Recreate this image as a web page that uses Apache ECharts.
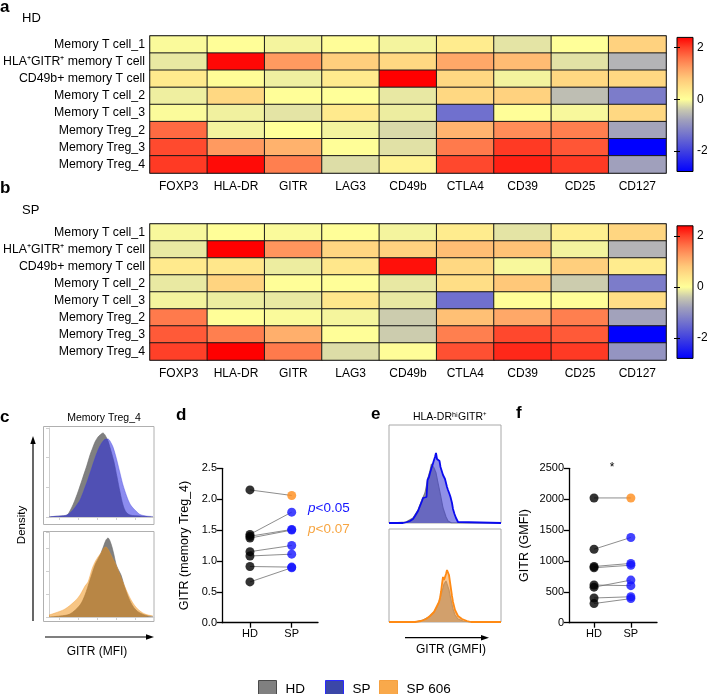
<!DOCTYPE html>
<html><head><meta charset="utf-8">
<script src="https://cdn.jsdelivr.net/npm/echarts@6/dist/echarts.min.js"></script>
<style>html,body{margin:0;padding:0;background:#fff}#c{width:707px;height:694px}</style>
</head><body><div id="c"></div>
<script>
// ---------- DATA ----------
const rowNames = ['Memory T cell_1','HLA\u207AGITR\u207A memory T cell','CD49b+ memory T cell','Memory T cell_2','Memory T cell_3','Memory Treg_2','Memory Treg_3','Memory Treg_4'];
const markers = ['FOXP3','HLA-DR','GITR','LAG3','CD49b','CTLA4','CD39','CD25','CD127'];
const hdZ = [
 [-0.04, 0.02,-0.08, 0.03,-0.08, 0.30,-0.20, 0.00, 0.66],
 [-0.16, 2.35, 1.25, 0.70, 0.58, 1.12, 0.92,-0.21,-0.60],
 [ 0.33, 0.05,-0.12, 0.33, 2.40, 0.58,-0.09, 0.58, 0.58],
 [-0.12, 0.58, 0.02, 0.00,-0.17, 0.58, 0.66,-0.50,-1.25],
 [-0.03,-0.10,-0.20, 0.33,-0.13,-1.40, 0.02,-0.05, 0.58],
 [ 1.68,-0.08, 0.00,-0.09,-0.28, 1.00, 1.37, 1.50,-0.76],
 [ 1.92, 1.25, 1.02, 0.02,-0.22, 1.55, 2.04, 1.83,-2.80],
 [ 2.04, 2.33, 1.50,-0.25, 0.18, 1.94, 2.20, 2.04,-0.80]
];
const spZ = [
 [-0.05, 0.02,-0.04, 0.02,-0.08, 0.30,-0.20, 0.25, 0.60],
 [-0.16, 2.40, 1.30, 0.60, 0.66, 0.90, 0.86,-0.09,-0.60],
 [ 0.33, 0.37,-0.13, 0.37, 2.30, 0.58,-0.05, 0.70, 0.30],
 [-0.16, 0.63, 0.02, 0.02,-0.17, 0.50, 0.80,-0.37,-1.25],
 [-0.08,-0.13,-0.16, 0.37,-0.16,-1.40, 0.02, 0.02, 0.50],
 [ 1.55, 0.02,-0.04,-0.07,-0.37, 0.88, 1.12, 1.50,-0.78],
 [ 1.80, 1.50, 1.05, 0.02,-0.37, 1.50, 1.94, 1.80,-2.80],
 [ 2.00, 2.40, 1.55,-0.25, 0.03, 1.88, 2.15, 2.04,-0.95]
];
const zMin = -2.8, zMax = 2.4;
const colorbarTicks = [-2, 0, 2];
const scaleColors = ['#0000ff','#2020f0','#4040e0','#6060d4','#8080c8','#a0a0bc','#c8c8b0','#ffff99','#ffe58a','#ffc879','#ffa064','#ff7448','#ff4028','#ff0000'];

// panel c densities [GITR MFI, density]
const cTopHD = [[0,0],[4,0.5],[11,1],[18,2],[22,8],[26,17],[30,28],[34,40],[38,52],[41,62],[44,70],[46,75],[49,80],[51,82],[54,84],[56,82],[59,76],[62,66],[65,55],[68,40],[71,25],[74,12],[77,5],[81,2],[91,1],[104,0]];
const cTopSP = [[0,0],[4,0.5],[11,1],[18,2],[23,6],[27,11],[31,17],[35,27],[39,38],[43,50],[46,59],[49,67],[52,73],[55,77],[57,78],[59,78],[61,76],[64,70],[67,60],[71,44],[74,32],[78,20],[81,13],[84,9],[88,5],[91,2.5],[97,1],[104,0.5]];
const cBotHD = [[0,0],[11,1],[21,3],[31,12],[36,22],[41,37],[46,52],[49,58],[52,64],[55,72],[57,77],[59,79],[61,76],[63,70],[65,62],[67,53],[69,48],[72,42],[76,29],[81,16],[86,8],[91,4],[99,1],[104,0.5]];
const cBotSP = [[0,2],[6,4],[16,8],[26,16],[31,22],[36,31],[39,35],[43,48],[46,55],[49,60],[52,64],[55,69],[57,70],[60,66],[63,60],[67,52],[71,42],[76,30],[81,19],[86,11],[91,6],[96,3],[104,1]];
// panel e histograms [GITR GMFI, count]
const eTopHD = [[0,0],[17,1],[24,5],[29,13],[32.5,22],[36,30],[39,45],[41,52],[42.5,59],[45,55],[47,50],[49,40],[51.5,28],[54,15],[57,6],[59,2],[62.5,0],[112,0]];
const eTopSP = [[0,0],[14,0],[18,1],[21,2],[24,4],[26,7],[29,12],[31,17],[33,22],[34,25],[36,27],[37.5,26],[38.5,43],[40,46],[41,50],[42.5,55],[43.5,58],[45,63],[46,66],[47,70],[48,64],[48.5,62],[49.5,66],[50.5,62],[51.5,56],[52.5,54],[54,48],[55,46],[56,44],[57,42],[58,36],[59,33],[60.5,29],[61.5,26],[63,20],[64,14],[65.5,9],[67,5],[69,1],[71,0],[112,0]];
const eBotHD = [[0,0],[26,0],[34,2],[40,5],[45,10],[48,15],[50,20],[52,27],[54,34],[55,38],[56,40],[57,41],[58,39],[60,32],[62,22],[64,13],[66,7],[69,3],[74,1],[80,0],[112,0]];
const eBotSP = [[0,0],[26,0],[32,1],[37,3],[41,6],[45,10],[48,16],[50,20],[51,24],[52,30],[53,38],[54,45],[55,42],[56,43],[57,48],[58,52],[59,54],[60,47],[61,40],[62,33],[63,26],[64,20],[66,12],[69,6],[73,3],[78,1],[82,0],[112,0]];

// panel d / f paired values
const groups = ['HD','SP'];
const dHD = [2.15,1.43,1.40,1.37,1.15,1.08,0.91,0.66];
const dSP = [2.06,1.79,1.51,1.50,1.25,1.11,0.90,0.89];
const fHD = [2020,1190,910,890,610,575,400,310];
const fSP = [2020,1380,960,930,600,690,420,390];

// ---------- BUILD ----------
const FF = '"Liberation Sans", Arial, Helvetica, sans-serif';
const BLUE = '#1414ff', ORANGE = '#ff8c1a', ORANGE_T = '#f7a541';
const chart = echarts.init(document.getElementById('c'), null, {renderer:'canvas'});

function heatData(m){ const out=[]; m.forEach((row,r)=>row.forEach((v,c)=>out.push([c,r,v]))); return out; }
const gradStops = scaleColors.slice().reverse().map((c,i,a)=>({offset:i/(a.length-1), color:c}));

const grids = [
  {left:150, top:36, width:516, height:137, show:true, borderColor:'#777', borderWidth:1.5},  //0 heat a
  {left:677, top:37.4, width:16, height:134.1, show:true, borderColor:'#000', borderWidth:1,
     backgroundColor:{type:'linear',x:0,y:0,x2:0,y2:1,colorStops:gradStops}}, //1 cbar a
  {left:150, top:224, width:516, height:136, show:true, borderColor:'#777', borderWidth:1.5}, //2 heat b
  {left:677, top:225.8, width:16, height:132.6, show:true, borderColor:'#000', borderWidth:1,
     backgroundColor:{type:'linear',x:0,y:0,x2:0,y2:1,colorStops:gradStops}}, //3 cbar b
  {left:49, top:428, width:105, height:89},             //4 c top
  {left:49, top:532, width:105, height:85},             //5 c bottom
  {left:222, top:468.3, width:96, height:154.4},        //6 d
  {left:389, top:425, width:112, height:98, show:true, borderColor:'#a8a8a8', borderWidth:1}, //7 e top
  {left:389, top:529, width:112, height:93, show:true, borderColor:'#a8a8a8', borderWidth:1}, //8 e bottom
  {left:569, top:468.3, width:88, height:154.4}         //9 f
].map(g=>Object.assign({outerBoundsMode:'none', containLabel:false}, g));

const hid = {show:false};
const catX = (gi)=>({gridIndex:gi, type:'category', data:markers, axisLine:hid, axisTick:hid, splitLine:hid,
   axisLabel:{color:'#000', fontSize:12, fontFamily:FF, margin:8, interval:0}});
const catY = (gi)=>({gridIndex:gi, type:'category', data:rowNames, inverse:true, axisLine:hid, axisTick:hid, splitLine:hid,
   axisLabel:{color:'#000', fontSize:12.3, fontFamily:FF, margin:5, interval:0}});
const cbY = (gi, pos, lab)=>({gridIndex:gi, type:'value', min:zMin, max:zMax, position:pos,
   axisLine:hid, splitLine:hid,
   axisTick:{show:true, inside:true, length:3, customValues:colorbarTicks, lineStyle:{color:'#000'}},
   axisLabel:{show:lab, customValues:colorbarTicks, color:'#000', fontSize:12, fontFamily:FF, margin:4}});
const hidVal = (gi,min,max)=>({gridIndex:gi, type:'value', min, max, show:false});
const faintAxisX = (gi, ticks)=>({gridIndex:gi, type:'value', min:0, max:105,
   axisLine:{show:true, lineStyle:{color:'#cfcfcf', width:1}},
   axisTick:{show:true, length:3, customValues:ticks, lineStyle:{color:'#cfcfcf'}},
   axisLabel:hid, splitLine:hid});
const faintAxisY = (gi, max, interval)=>({gridIndex:gi, type:'value', min:0, max, interval,
   axisLine:{show:true, lineStyle:{color:'#cfcfcf', width:1}},
   axisTick:{show:true, length:3, lineStyle:{color:'#cfcfcf'}},
   axisLabel:hid, splitLine:hid});
const pairX = (gi, min, max)=>({gridIndex:gi, type:'value', min, max,
   axisLine:{show:true, onZero:false, lineStyle:{color:'#000', width:1.3}},
   axisTick:{show:true, length:5, customValues:[1,2], lineStyle:{color:'#000', width:1.3}},
   axisLabel:{customValues:[1,2], formatter:v=>groups[Math.round(v)-1], color:'#000', fontSize:11, fontFamily:FF, margin:6},
   splitLine:hid});
const pairY = (gi, max, interval, name, gap, fmt)=>({gridIndex:gi, type:'value', min:0, max, interval,
   name, nameLocation:'middle', nameGap:gap, nameTextStyle:{color:'#000', fontSize:12.5, fontFamily:FF},
   axisLine:{show:true, lineStyle:{color:'#000', width:1.3}},
   axisTick:{show:true, length:5, lineStyle:{color:'#000', width:1.3}},
   axisLabel:{color:'#000', fontSize:11, fontFamily:FF, margin:5, formatter:fmt},
   splitLine:hid});

const xAxis = [
  catX(0), hidVal(1,0,1), catX(2), hidVal(3,0,1),
  faintAxisX(4,[10,29,48,67,86]), faintAxisX(5,[10,29,48,67,86]),
  pairX(6,0.33,2.63),
  hidVal(7,0,112), hidVal(8,0,112),
  pairX(9,0.32,2.71)
];
const yAxis = [
  catY(0), cbY(1,'right',true), cbY(1,'left',false),
  catY(2), cbY(3,'right',true), cbY(3,'left',false),
  faintAxisY(4,89,30), faintAxisY(5,85,23),
  pairY(6,2.5,0.5,'GITR (memory Treg_4)',31,v=>v.toFixed(1)),
  hidVal(7,0,98), hidVal(8,0,93),
  pairY(9,2500,500,'GITR (GMFI)',38,v=>String(v))
];

const series = [
  {type:'heatmap', xAxisIndex:0, yAxisIndex:0, data:heatData(hdZ), emphasis:{disabled:true},
   itemStyle:{borderColor:'#1a1a1a', borderWidth:1}},
  {type:'heatmap', xAxisIndex:2, yAxisIndex:3, data:heatData(spZ), emphasis:{disabled:true},
   itemStyle:{borderColor:'#1a1a1a', borderWidth:1}},
  // c
  {name:'HD', type:'line', xAxisIndex:4, yAxisIndex:6, data:cTopHD, smooth:0.3, symbol:'none',
   lineStyle:{color:'#6e6e6e', width:0.6}, areaStyle:{color:'#808080', opacity:1}, z:2},
  {name:'SP', type:'line', xAxisIndex:4, yAxisIndex:6, data:cTopSP, smooth:0.3, symbol:'none',
   lineStyle:{color:'rgba(60,60,220,0.6)', width:0.6}, areaStyle:{color:'rgba(38,38,226,0.53)', opacity:1}, z:3},
  {name:'HD', type:'line', xAxisIndex:5, yAxisIndex:7, data:cBotHD, smooth:0.3, symbol:'none',
   lineStyle:{color:'#6e6e6e', width:0.6}, areaStyle:{color:'#808080', opacity:1}, z:2},
  {name:'SP 606', type:'line', xAxisIndex:5, yAxisIndex:7, data:cBotSP, smooth:0.3, symbol:'none',
   lineStyle:{color:'rgba(245,150,40,0.6)', width:0.6}, areaStyle:{color:'rgba(240,140,10,0.5)', opacity:1}, z:3},
  // e
  {name:'HD', type:'line', xAxisIndex:7, yAxisIndex:9, data:eTopHD, symbol:'none',
   lineStyle:{color:'#7a7a7a', width:1.2}, areaStyle:{color:'#9c9c9c', opacity:1}, z:2},
  {name:'SP', type:'line', xAxisIndex:7, yAxisIndex:9, data:eTopSP, symbol:'none',
   lineStyle:{color:'#0a0aee', width:1.8}, areaStyle:{color:'rgba(70,70,215,0.6)', opacity:1}, z:3},
  {name:'HD', type:'line', xAxisIndex:8, yAxisIndex:10, data:eBotHD, symbol:'none',
   lineStyle:{color:'#8a8a8a', width:1.2}, areaStyle:{color:'#a6a6a6', opacity:1}, z:2},
  {name:'SP 606', type:'line', xAxisIndex:8, yAxisIndex:10, data:eBotSP, symbol:'none',
   lineStyle:{color:'#ff8a14', width:1.8}, areaStyle:{color:'rgba(245,155,60,0.55)', opacity:1}, z:3}
];
function pairSeries(xi, yi, hd, sp){
  hd.forEach((v,i)=>series.push({type:'line', xAxisIndex:xi, yAxisIndex:yi, data:[[1,v],[2,sp[i]]], symbol:'none',
     silent:true, lineStyle:{color:'#707070', width:0.8}, z:1}));
  series.push({name:'pts HD', type:'scatter', xAxisIndex:xi, yAxisIndex:yi, symbolSize:9,
     data:hd.map(v=>[1,v]), itemStyle:{color:'#000'}, z:4});
  series.push({name:'pts SP', type:'scatter', xAxisIndex:xi, yAxisIndex:yi, symbolSize:9,
     data:sp.map((v,i)=>({value:[2,v], itemStyle:{color:i===0?ORANGE:BLUE}})), z:4});
}
pairSeries(6,8,dHD,dSP);
pairSeries(9,11,fHD,fSP);

function T(text, x, y, o){ o=o||{};
  return {type:'text', x, y, rotation:o.rot||0, silent:true, z:10, style:Object.assign({text, fill:o.fill||'#000',
    fontSize:o.fs||12, fontFamily:FF, fontWeight:o.fw||'normal', align:o.align||'left', verticalAlign:'middle'}, o.extra||{})}; }
const arrowLine = (x1,y1,x2,y2)=>({type:'line', silent:true, shape:{x1,y1,x2,y2}, style:{stroke:'#000', lineWidth:1.2}});
const tri = (pts)=>({type:'polygon', silent:true, shape:{points:pts}, style:{fill:'#000'}});

const graphic = [
  T('a',0,7,{fs:17,fw:'bold'}), T('HD',22,18,{fs:13}),
  T('b',0,188,{fs:17,fw:'bold'}), T('SP',22,210,{fs:13}),
  T('c',0,417,{fs:17,fw:'bold'}), T('Memory Treg_4',104,418,{fs:10.5,align:'center'}),
  T('d',176,415,{fs:17,fw:'bold'}),
  T('e',371,414,{fs:17,fw:'bold'}), T('HLA-DR\u02B0\u2071GITR\u207A',450,417,{fs:10.5,align:'center'}),
  T('f',516,413,{fs:17,fw:'bold'}),
  T('Density',22,525,{fs:11.5,align:'center',rot:Math.PI/2}),
  T('GITR (MFI)',97,652,{fs:12,align:'center'}),
  T('GITR (GMFI)',451,650,{fs:12,align:'center'}),
  T('*',612,468,{fs:12,align:'center'}),
  {type:'text', x:308, y:508, silent:true, z:10, style:{text:'{i|p}{n|<0.05}', verticalAlign:'middle',
     rich:{i:{fontStyle:'italic', fontSize:13.5, fontFamily:FF, fill:BLUE}, n:{fontSize:13.5, fontFamily:FF, fill:BLUE}}}},
  {type:'text', x:308, y:529, silent:true, z:10, style:{text:'{i|p}{n|<0.07}', verticalAlign:'middle',
     rich:{i:{fontStyle:'italic', fontSize:13.5, fontFamily:FF, fill:ORANGE_T}, n:{fontSize:13.5, fontFamily:FF, fill:ORANGE_T}}}},
  {type:'rect', silent:true, shape:{x:43.5, y:426.5, width:110.5, height:98}, style:{fill:'none', stroke:'#b0b0b0', lineWidth:1}},
  {type:'rect', silent:true, shape:{x:43.5, y:531.5, width:110.5, height:90}, style:{fill:'none', stroke:'#b0b0b0', lineWidth:1}},
  arrowLine(33,621,33,442), tri([[33,436],[30.3,444],[35.7,444]]),
  arrowLine(45,637,148,637), tri([[154,637],[146,634.3],[146,639.7]]),
  arrowLine(405,637.7,482,637.7), tri([[489,637.7],[481,635],[481,640.4]])
];

const legendItem = (name, left, color, border)=>({left, top:675, icon:'rect', itemWidth:18, itemHeight:18,
   selectedMode:false, data:[{name, itemStyle:{color, borderColor:border, borderWidth:1}}],
   textStyle:{color:'#000', fontSize:13.5, fontFamily:FF, padding:[0,0,0,4]}});

chart.setOption({
  animation:false,
  backgroundColor:'#fff',
  grid:grids, xAxis, yAxis, series, graphic,
  visualMap:{type:'continuous', show:false, min:zMin, max:zMax, seriesIndex:[0,1], dimension:2,
     inRange:{color:scaleColors}},
  legend:[legendItem('HD',253,'#808080','#4a4a4a'), legendItem('SP',320,'#3b47a8','#2a2aff'), legendItem('SP 606',374,'#f9a94b','#f5a040')]
});
</script></body></html>
